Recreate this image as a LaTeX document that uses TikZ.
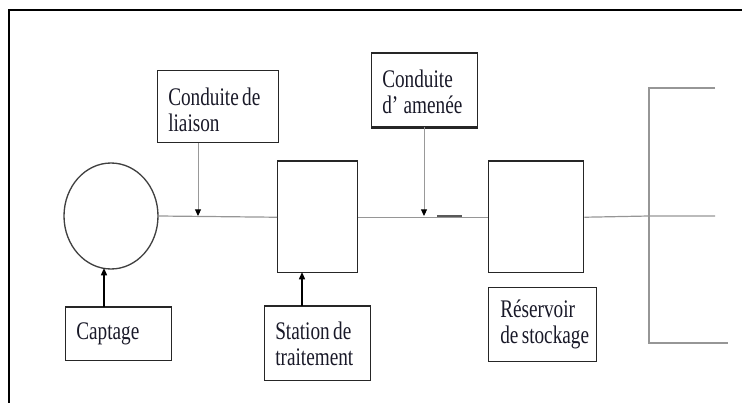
\documentclass[tikz,border=0pt]{standalone}
\usepackage{fontspec}
\setmainfont[FakeStretch=0.76]{Liberation Serif}
\usetikzlibrary{arrows.meta,shapes.geometric}
\definecolor{ink}{RGB}{25,25,40}
\definecolor{pipegray}{RGB}{150,150,150}
\newcommand\wsp{\hspace{2.5pt}}
\begin{document}
\begin{tikzpicture}[x=0.75pt,y=-0.75pt,
  boxst/.style={draw=black!85, line width=1.1pt, inner sep=0pt, anchor=north west},
  txt/.style={inner sep=0pt, anchor=west, align=left, text=ink,
    font=\fontsize{19pt}{19.5pt}\selectfont},
  pipe/.style={draw=pipegray, line width=0.9pt},
  feed/.style={draw=black!40, line width=0.7pt,
    -{Triangle[length=5pt,width=4.5pt,color=black]}},
  upfeed/.style={draw=black, line width=1.1pt,
    -{Triangle[length=5.5pt,width=4.5pt]}},
  thickedge/.style={draw=black!85, line width=1.8pt}
]
\useasboundingbox (0,0) rectangle (742,403);
% frame
\draw[line width=1.5pt] (9,403) -- (9,10) -- (742,10);

% main elements
\node[ellipse, draw=black!75, line width=1pt, minimum width=70.5pt, minimum height=79.5pt, inner sep=0pt] (src) at (111,216) {};
\node[boxst, minimum width=60pt, minimum height=83.25pt] (treat) at (277,161) {};
\node[boxst, minimum width=71.25pt, minimum height=83.25pt] (res) at (488,161) {};
\draw[thickedge] (treat.north west) -- (treat.north east);
\draw[thickedge] (res.north west) -- (res.north east);

% label boxes
\node[boxst, minimum width=90.75pt, minimum height=54pt] (liaison) at (157,70) {};
\node[txt] (liaisontxt) at ([xshift=8.25pt,yshift=-2.25pt]liaison.west) {Conduite\wsp de\\liaison};

\node[boxst, minimum width=79.5pt, minimum height=54.75pt] (amenee) at (371,53) {};
\node[txt] (ameneetxt) at ([xshift=8.25pt,yshift=-1pt]amenee.west) {Conduite\\d'\hspace{4pt}amenée};
\draw[thickedge] (amenee.north west) -- (amenee.north east);
\draw[thickedge] (amenee.south west) -- (amenee.south east);

\node[boxst, minimum width=79.5pt, minimum height=39.75pt] (captage) at (65,307) {};
\node[txt] (captagetxt) at ([xshift=8.25pt]captage.west) {Captage};
\draw[thickedge] (captage.north west) -- (captage.north east);

\node[boxst, minimum width=79.5pt, minimum height=55.5pt] (station) at (264,306) {};
\node[txt] (stationtxt) at ([xshift=8.25pt]station.west) {Station\wsp de\\traitement};
\draw[thickedge] (station.north west) -- (station.north east);

\node[boxst, minimum width=81pt, minimum height=55.5pt] (reslbl) at (488,287) {};
\node[txt] (reslbltxt) at ([xshift=9pt]reslbl.west) {Réservoir\\de\wsp stockage};

% pipe
\coordinate (hub) at (649,216);
\coordinate (dtop) at (649,88);
\coordinate (dtopend) at (715,88);
\coordinate (dmidend) at (715,216);
\coordinate (dbot) at (649,343);
\coordinate (dbotend) at (728,343);
\coordinate (segA) at (437,216);
\coordinate (segB) at (462,216);
\draw[pipe] (src.east) -- (treat.west);
\draw[pipe] (treat.east) -- (res.west);
\draw[pipe] (res.east) -- (hub) -- (dmidend);
\draw[pipe, line width=1.2pt] (dtopend) -- (dtop) -- (dbot) -- (dbotend);
\draw[line width=1.3pt, black!65] (segA) -- (segB);

% feeds
\coordinate (fa) at (198,216);
\coordinate (fb) at (424,216);
\coordinate (fc) at (104,268);
\coordinate (fd) at (302,272);
\draw[feed] (liaison.south -| fa) -- (fa);
\draw[feed] (amenee.south -| fb) -- (fb);
\draw[upfeed] (captage.north -| fc) -- (fc);
\draw[upfeed] (station.north -| fd) -- (fd);
\end{tikzpicture}
\end{document}
